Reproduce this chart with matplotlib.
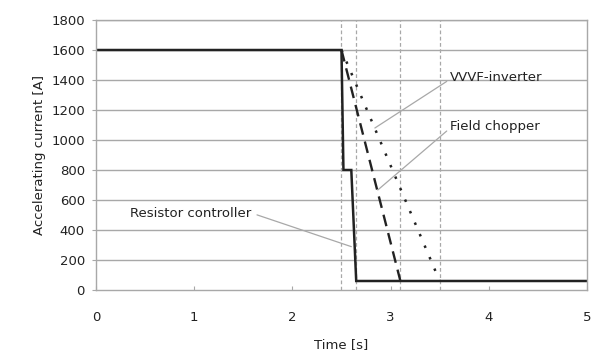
import numpy as np
import matplotlib.pyplot as plt

# current traces (time [s], current [A])
resistor_t = [0, 2.5, 2.52, 2.6, 2.65, 5]
resistor_i = [1600, 1600, 800, 800, 60, 60]
chopper_t = [2.5, 3.1]
chopper_i = [1600, 60]
vvvf_t = [2.5, 3.5]
vvvf_i = [1600, 60]

marker_times = [2.5, 2.65, 3.1, 3.5]

fig = plt.figure(figsize=(5.91, 3.56), dpi=100)
ax = fig.add_axes([0.1624, 0.1854, 0.8308, 0.7584])

gray = "#a8a8a8"
for y in range(200, 1801, 200):
    ax.axhline(y, color=gray, lw=1.0, zorder=0)
for t in marker_times:
    ax.axvline(t, color=gray, lw=0.9, ls=(0, (3, 2)), zorder=0)

ax.plot(resistor_t, resistor_i, color="#222222", lw=1.8, solid_joinstyle="miter")
ax.plot(chopper_t, chopper_i, color="#222222", lw=1.7, ls=(0, (5, 3)))
ax.plot(vvvf_t, vvvf_i, color="#222222", lw=1.8, ls=(0, (1, 4)))

txt = "#222222"
tfont = dict(fontsize=9.5, color=txt, va="center", ha="left")
ax.annotate("VVVF-inverter", xy=(2.84, 1080), xytext=(3.6, 1420),
            arrowprops=dict(arrowstyle="-", color=gray, lw=0.9, shrinkA=0, shrinkB=0,
                            relpos=(0, 0.3)), **tfont)
ax.annotate("Field chopper", xy=(2.87, 667), xytext=(3.6, 1093),
            arrowprops=dict(arrowstyle="-", color=gray, lw=0.9, shrinkA=0, shrinkB=0,
                            relpos=(0, 0.3)), **tfont)
ax.annotate("Resistor controller", xy=(2.6, 289), xytext=(0.35, 513),
            arrowprops=dict(arrowstyle="-", color=gray, lw=0.9, shrinkA=2, shrinkB=0,
                            relpos=(1, 0.5)), **tfont)

ax.set_xlim(0, 5)
ax.set_ylim(0, 1800)
ax.set_xticks(np.arange(0, 6, 1))
ax.set_yticks(np.arange(0, 1801, 200))
ax.tick_params(axis="x", direction="in", length=3, color=gray, labelsize=9.5,
               labelcolor=txt, pad=15)
ax.tick_params(axis="y", direction="out", length=3, color=gray, labelsize=9.5,
               labelcolor=txt, pad=5)
for s in ax.spines.values():
    s.set_color(gray)
    s.set_linewidth(1.0)

ax.set_xlabel("Time [s]", fontsize=9.5, color=txt, labelpad=10)
ax.set_ylabel("Accelerating current [A]", fontsize=9.5, color=txt, labelpad=4)

fig.savefig("out.png", dpi=100)
